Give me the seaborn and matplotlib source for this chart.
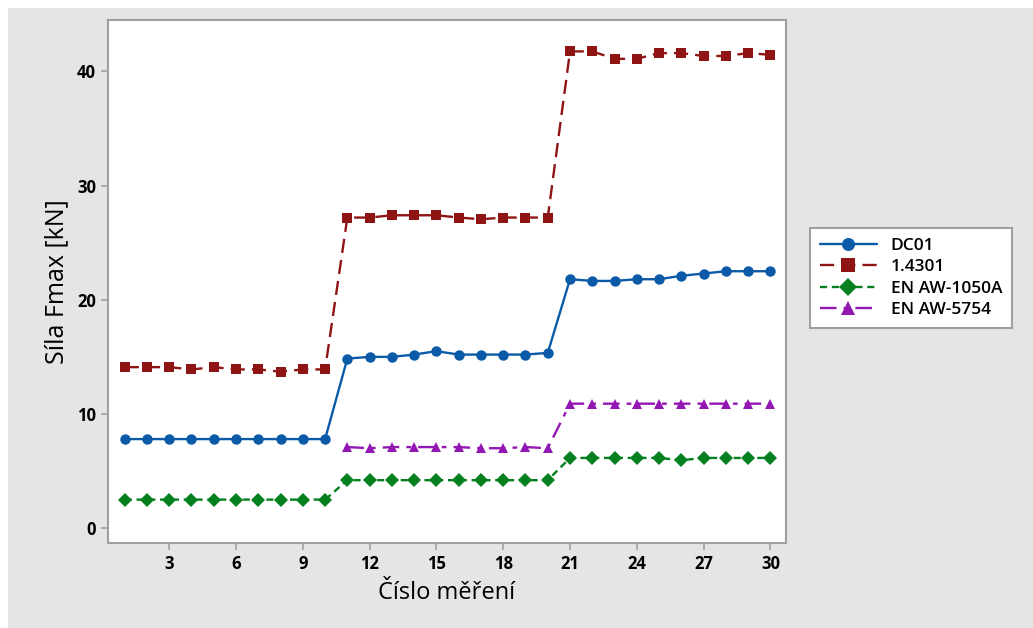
import matplotlib
matplotlib.use("Agg")
import matplotlib.pyplot as plt
import numpy as np
import pandas as pd
import seaborn as sns
from matplotlib.patches import Rectangle

measurement = list(range(1, 31))
dc01 = [7.8] * 10 + [14.85, 15.0, 15.0, 15.2, 15.5, 15.2, 15.2, 15.2, 15.2, 15.35,
                     21.8, 21.65, 21.65, 21.8, 21.8, 22.1, 22.3, 22.5, 22.5, 22.5]
steel_14301 = [14.1, 14.1, 14.1, 13.9, 14.1, 13.9, 13.9, 13.7, 13.9, 13.9,
               27.2, 27.2, 27.4, 27.4, 27.4, 27.2, 27.05, 27.2, 27.2, 27.2,
               41.75, 41.75, 41.1, 41.1, 41.6, 41.6, 41.35, 41.35, 41.6, 41.45]
aw_1050a = [2.5] * 10 + [4.2] * 10 + [6.15] * 5 + [5.95] + [6.15] * 4
aw_5754 = [np.nan] * 10 + [7.1, 7.0, 7.1, 7.1, 7.1, 7.1, 7.0, 7.0, 7.1, 7.0] + [10.9] * 10

series = ["DC01", "1.4301", "EN AW-1050A", "EN AW-5754"]
values = [dc01, steel_14301, aw_1050a, aw_5754]

frames = []
for name, vals in zip(series, values):
    frames.append(pd.DataFrame({"Číslo měření": measurement, "Síla": vals, "Materiál": name}))
df = pd.concat(frames, ignore_index=True).dropna()

palette = {"DC01": "#0b5aa8", "1.4301": "#8f1414", "EN AW-1050A": "#05801e", "EN AW-5754": "#9317b3"}
markers = {"DC01": "o", "1.4301": "s", "EN AW-1050A": "D", "EN AW-5754": "^"}
dashes = {"DC01": "", "1.4301": (6, 3), "EN AW-1050A": (3, 2), "EN AW-5754": (7, 3, 2, 3)}

sns.set_style("ticks")
plt.rcParams['font.family'] = ['Open Sans', 'DejaVu Sans']

fig = plt.figure(figsize=(10.33, 6.28), dpi=100)
fig.patch.set_facecolor("white")
fig.patches.append(Rectangle((8 / 1033, 0), 1 - 8 / 1033, 1 - 8 / 628, transform=fig.transFigure,
                             facecolor="#e5e5e5", edgecolor="none", zorder=-10))
ax = fig.add_axes([108 / 1033, 1 - 543 / 628, (786 - 108) / 1033, (543 - 20) / 628])
ax.set_facecolor("white")

sns.lineplot(data=df, x="Číslo měření", y="Síla", hue="Materiál", style="Materiál",
             hue_order=series, style_order=series, palette=palette, markers=markers,
             dashes=dashes, linewidth=1.7, markersize=7.5, markeredgewidth=0, ax=ax)

ax.set_xlim(0.25, 30.7)
ax.set_ylim(-1.3, 44.5)
ax.set_xticks(range(3, 31, 3))
ax.set_yticks([0, 10, 20, 30, 40])
for s in ax.spines.values():
    s.set_color("#a0a0a0")
    s.set_linewidth(1.5)
ax.tick_params(axis="both", colors="#a0a0a0", length=5, width=1.2, labelcolor="black", labelsize=12)
for lab in ax.get_xticklabels() + ax.get_yticklabels():
    lab.set_fontweight("bold")
ax.set_xlabel("Číslo měření", fontsize=17, labelpad=6, color="black", fontweight="medium")
ax.set_ylabel("Síla Fmax [kN]", fontsize=18, labelpad=6, color="black", fontweight="medium")

leg = ax.legend(loc="center left", bbox_to_anchor=(810 / 1033, 1 - 278 / 628),
                bbox_transform=fig.transFigure, title=None, fontsize=12.5, frameon=True,
                fancybox=False, framealpha=1, facecolor="white", edgecolor="#a0a0a0",
                borderpad=0.55, borderaxespad=0, handlelength=3.3, labelspacing=0.3,
                markerscale=1.25)
leg.get_frame().set_linewidth(1.5)
for t in leg.get_texts():
    t.set_fontweight("semibold")
    t.set_color("black")

fig.savefig("out.png", dpi=100, facecolor=fig.get_facecolor())
